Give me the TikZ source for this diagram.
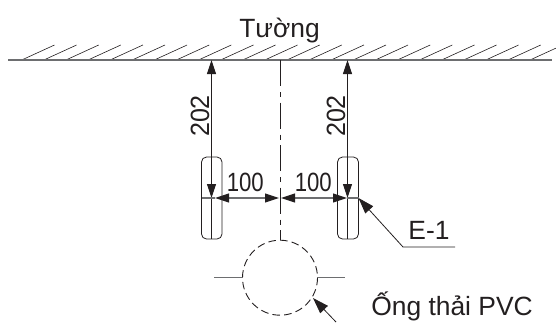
\documentclass[tikz,border=0pt]{standalone}
\usepackage{fontspec}
\setmainfont{Liberation Sans}
\usetikzlibrary{arrows.meta}
\definecolor{ink}{HTML}{231F20}
\definecolor{wallgray}{HTML}{6D6E70}
\tikzset{
  every node/.style={text=ink,inner sep=0pt,font=\fontsize{26.4}{28}\selectfont},
  thinline/.style={draw=ink,line width=0.8pt},
  grayline/.style={draw=wallgray,line width=1.1pt},
  dim/.style={thinline,{Triangle[length=14pt,width=9pt]}-{Triangle[length=14pt,width=9pt]}},
  dimh/.style={grayline,{Triangle[length=14pt,width=9pt,color=ink]}-{Triangle[length=14pt,width=9pt,color=ink]}},
  lead/.style={thinline,{Triangle[length=16pt,width=10.5pt]}-},
  hatchline/.style={draw=ink,line width=0.6pt},
  capsule/.style={draw=ink,line width=0.8pt,rounded corners=5pt},
  centerl/.style={draw=ink,line width=0.9pt,dash pattern=on 26pt off 6pt on 5pt off 5.5pt},
  pipe/.style={draw=ink,line width=0.9pt,dash pattern=on 7.6pt off 4.18pt}
}
\begin{document}
\begin{tikzpicture}[x=1pt,y=-1pt]
\useasboundingbox (0,0) rectangle (556,322);
% wall
\coordinate (wl) at (8,60);
\coordinate (wr) at (552,60);
\foreach \i in {0,...,23} {
  \draw[hatchline] ({21.7+22.1*\i},60) -- ({54.5+22.1*\i},45);
}
\draw[grayline,line width=1.5pt] (wl) -- (wr);
\node[anchor=base] (wall) at (279.5,37.7) {Tường};
% centre line
\coordinate (ct) at (280,60);
\coordinate (cb) at (280,240);
\draw[centerl] (ct) -- (cb);
% capsules
\draw[capsule] (201.5,157) rectangle (222,239);
\draw[capsule] (337.5,157) rectangle (358.5,239);
\coordinate (la) at (211.5,60);
\coordinate (lb) at (211.5,198);
\coordinate (lc) at (211.5,239);
\coordinate (ra) at (347.5,60);
\coordinate (rb) at (347.5,198);
\coordinate (rc) at (347.5,239);
\draw[thinline] (lb) -- (lc);
\draw[thinline] (rb) -- (rc);
\draw[dim] (la) -- (lb);
\draw[dim] (ra) -- (rb);
\node[rotate=90,xscale=.95] (n1) at (200,116) {202};
\node[rotate=90,xscale=.95] (n2) at (336,116) {202};
% horizontal dims
\coordinate (hl) at (201.5,198);
\coordinate (hlt) at (215,198);
\coordinate (hc1) at (279,198);
\coordinate (hc2) at (281,198);
\coordinate (hrt) at (347,198);
\coordinate (hr) at (358.5,198);
\draw[grayline] (hl) -- (hlt);
\draw[grayline] (hrt) -- (hr);
\draw[dimh] (hlt) -- (hc1);
\draw[dimh] (hc2) -- (hrt);
\node[xscale=.84] (n3) at (245.3,182.7) {100};
\node[xscale=.84] (n4) at (313.3,182.7) {100};
% pipe
\draw[pipe] (280,277.7) circle (37.5);
\coordinate (sl1) at (214,277.7);
\coordinate (sl2) at (242,277.7);
\coordinate (sr1) at (317,277.7);
\coordinate (sr2) at (345,277.7);
\draw[grayline] (sl1) -- (sl2);
\draw[grayline] (sr1) -- (sr2);
% labels with leaders
\coordinate (e1) at (358.5,198);
\coordinate (e2) at (403,247);
\coordinate (e3) at (455,247);
\draw[lead] (e1) -- (e2) -- (e3);
\node[anchor=base] (elab) at (429,239.3) {E-1};
\coordinate (p1) at (313,298);
\coordinate (p2) at (336,322);
\draw[lead] (p1) -- (p2);
\node[anchor=base] (plab) at (452,315) {Ống thải PVC};
\end{tikzpicture}
\end{document}
